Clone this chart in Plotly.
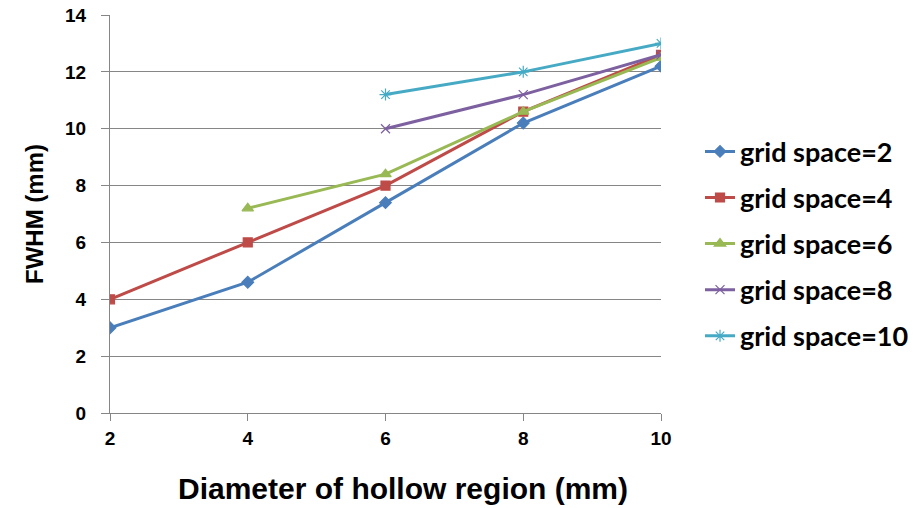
import plotly.graph_objects as go

# Diameter of hollow region (mm) and FWHM (mm) per grid spacing
diam_gs2 = [2, 4, 6, 8, 10]
fwhm_gs2 = [3.0, 4.6, 7.4, 10.2, 12.2]
diam_gs4 = [2, 4, 6, 8, 10]
fwhm_gs4 = [4.0, 6.0, 8.0, 10.6, 12.6]
diam_gs6 = [4, 6, 8, 10]
fwhm_gs6 = [7.2, 8.4, 10.6, 12.5]
diam_gs8 = [6, 8, 10]
fwhm_gs8 = [10.0, 11.2, 12.6]
diam_gs10 = [6, 8, 10]
fwhm_gs10 = [11.2, 12.0, 13.0]

series_names = ["grid space=2", "grid space=4", "grid space=6", "grid space=8", "grid space=10"]
x_ticks = [2, 4, 6, 8, 10]
y_ticks = [0, 2, 4, 6, 8, 10, 12, 14]

styles = [
    ("#4A7EBB", "diamond", 9),
    ("#BE4B48", "square", 9),
    ("#98B954", "triangle-up", 10),
    ("#7D60A0", "x-thin-open", 9),
    ("#46AAC5", "asterisk-open", 10),
]
data = [(diam_gs2, fwhm_gs2), (diam_gs4, fwhm_gs4), (diam_gs6, fwhm_gs6),
        (diam_gs8, fwhm_gs8), (diam_gs10, fwhm_gs10)]

TITLE_FONT = "Liberation Sans"
TICK_FONT = "Liberation Sans"
LEGEND_FONT = "Lato"
AXIS_GREY = "#868686"

fig = go.Figure()
for (xs, ys), name, (col, sym, sz) in zip(data, series_names, styles):
    fig.add_trace(go.Scatter(
        x=xs, y=ys, name=name, legendgroup=name, mode="lines+markers",
        line=dict(color=col, width=3),
        marker=dict(symbol=sym, size=sz, color=col, line=dict(color=col, width=1.2)),
    ))

fig.update_layout(
    width=915, height=508,
    margin=dict(l=110, r=254, t=15, b=95, autoexpand=False),
    paper_bgcolor="white", plot_bgcolor="white",
    font=dict(family=LEGEND_FONT, color="black"),
    showlegend=True,
    legend=dict(x=1.0708, y=0.425, xanchor="left", yanchor="middle",
                font=dict(family=LEGEND_FONT, size=27, color="black", weight="bold"),
                tracegroupgap=8, itemwidth=30,
                bgcolor="rgba(0,0,0,0)"),
    annotations=[dict(
        text="Diameter of hollow region (mm)", xref="paper", yref="paper",
        x=0.532, y=-0.19, xanchor="center", yanchor="middle", showarrow=False,
        font=dict(family=TITLE_FONT, size=30, color="black", weight="bold"),
    )],
)
fig.update_xaxes(
    range=[2, 10], tickvals=x_ticks, ticks="outside", ticklen=7, tickcolor=AXIS_GREY,
    showline=True, linecolor=AXIS_GREY, linewidth=1, showgrid=False, zeroline=False,
    automargin=False, ticklabelstandoff=1,
    tickfont=dict(family=TICK_FONT, size=19, color="black", weight="bold"),
)
fig.update_yaxes(
    range=[0, 14], tickvals=y_ticks, ticks="outside", ticklen=8, tickcolor=AXIS_GREY,
    showline=True, linecolor=AXIS_GREY, linewidth=1, showgrid=True, gridcolor=AXIS_GREY, gridwidth=1,
    zeroline=False, automargin=False, ticklabelstandoff=11,
    tickfont=dict(family=TICK_FONT, size=19, color="black", weight="bold"),
    title=dict(text="FWHM (mm)",
               font=dict(family=TITLE_FONT, size=24, color="black", weight="bold"), standoff=14),
)

fig.write_html("out.html")
